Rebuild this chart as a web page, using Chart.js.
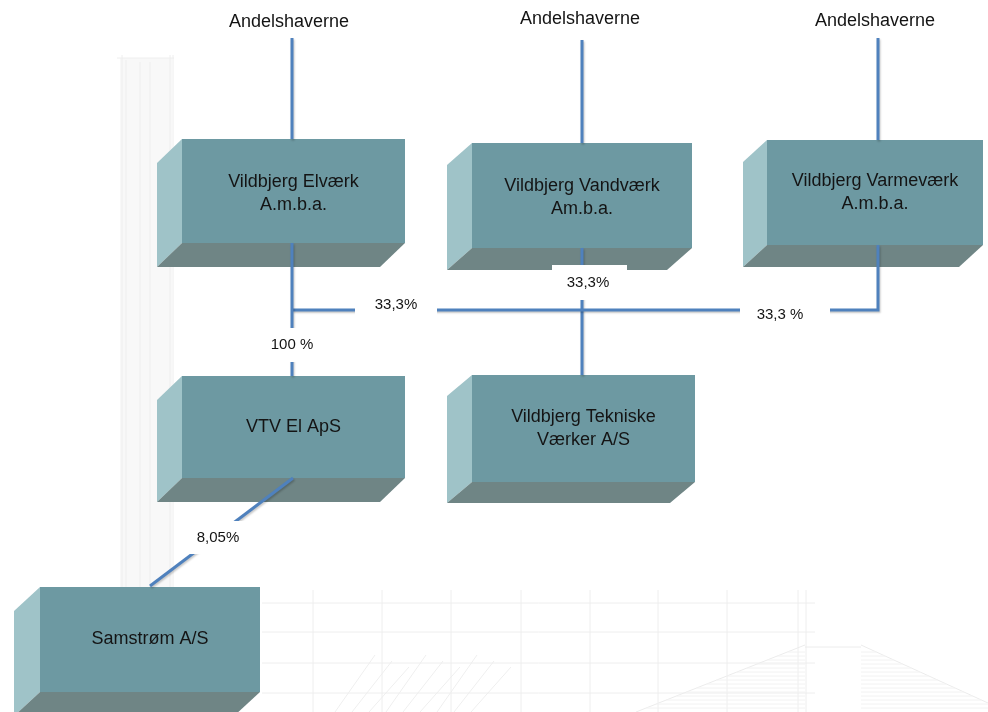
<!DOCTYPE html>
<html><head><meta charset="utf-8">
<script src="https://cdn.jsdelivr.net/npm/chart.js@4/dist/chart.umd.min.js"></script>
<style>html,body{margin:0;padding:0;background:#fff;}#wrap{width:988px;height:712px;position:relative;}</style>
</head><body><div id="wrap"><canvas id="c"></canvas></div>
<script>
// ---- data ----
const nodeNames = ["Vildbjerg Elværk\nA.m.b.a.", "Vildbjerg Vandværk\nAm.b.a.", "Vildbjerg Varmeværk\nA.m.b.a.", "VTV El ApS", "Vildbjerg Tekniske\nVærker A/S", "Samstrøm A/S"];
const ownerLabels = ["Andelshaverne", "Andelshaverne", "Andelshaverne"];
const shareLabels = ["33,3%", "33,3%", "33,3 %", "100 %", "8,05%"];
const shareValues = [33.3, 33.3, 33.3, 100, 8.05];

// ---- layout (data units = px of 988x712 canvas) ----
const L = {
  boxes: [
    {x0:182,y0:139,x1:405,y1:243,dx:-25,dy:24,ty:3},
    {x0:472,y0:143,x1:692,y1:248,dx:-25,dy:22,ty:2},
    {x0:767,y0:140,x1:983,y1:245,dx:-24,dy:22,ty:0},
    {x0:182,y0:376,x1:405,y1:478,dx:-25,dy:24,ty:0},
    {x0:472,y0:375,x1:695,y1:482,dx:-25,dy:21,ty:0},
    {x0:40,y0:587,x1:260,y1:692,dx:-26,dy:24,ty:0}
  ],
  owners: [{x:289,y:22},{x:580,y:19},{x:875,y:21}],
  shares: [
    {x:396,y:305,r:[355,296,437,320]},
    {x:588,y:283,r:[552,265,627,300]},
    {x:780,y:315,r:[740,300,830,328]},
    {x:292,y:345,r:[268,328,316,362]},
    {x:218,y:538,r:[188,521,250,554]}
  ],
  paths: [
    [[292,38],[292,139]],
    [[582,40],[582,143]],
    [[878,38],[878,140]],
    [[292,243],[292,376]],
    [[292,310],[878,310],[878,245]],
    [[582,248],[582,375]],
    [[293,478],[150,586]]
  ]
};
const C = {front:'#6d99a2', left:'#9fc3c8', bottom:'#6f8585', line:'#4f81bd', text:'#141414', sketch:'#eeeeee'};
const FONT = '"Liberation Sans", Arial, sans-serif';

function sx(ch,v){return ch.scales.x.getPixelForValue(v);}
function sy(ch,v){return ch.scales.y.getPixelForValue(v);}
function poly(ctx,pts,fill){ctx.beginPath();pts.forEach((p,i)=>i?ctx.lineTo(p[0],p[1]):ctx.moveTo(p[0],p[1]));ctx.closePath();ctx.fillStyle=fill;ctx.fill();}
function seg(ch,ctx,a,b){ctx.beginPath();ctx.moveTo(sx(ch,a[0]),sy(ch,a[1]));ctx.lineTo(sx(ch,b[0]),sy(ch,b[1]));ctx.stroke();}

const sketchPlugin = {
  id:'sketch',
  beforeDatasetsDraw(ch){
    const ctx=ch.ctx; ctx.save();
    // faint chimney
    ctx.fillStyle='#f8f8f8';
    ctx.fillRect(sx(ch,120),sy(ch,58),sx(ch,172)-sx(ch,120),sy(ch,590)-sy(ch,58));
    ctx.strokeStyle=C.sketch; ctx.lineWidth=1;
    [[117,58,174,58],[122,55,122,590],[126,60,126,590],[140,62,140,590],[150,62,150,590],[170,55,170,590],[173,55,173,590]].forEach(s=>seg(ch,ctx,[s[0],s[1]],[s[2],s[3]]));
    // faint grid
    [603,632,663,693].forEach(y=>seg(ch,ctx,[262,y],[815,y]));
    [313,382,451,521,590,658,727,798,806].forEach(x=>seg(ch,ctx,[x,590],[x,712]));
    // roof
    ctx.strokeStyle='#ececec';
    seg(ch,ctx,[805,645],[636,712]); seg(ch,ctx,[861,645],[988,703]); seg(ch,ctx,[805,647],[861,647]);
    ctx.strokeStyle='#f2f2f2';
    for(let y=652;y<712;y+=4){const xl=805-(y-645)*(169/67);seg(ch,ctx,[xl,y],[805,y]);const xr=861+(y-645)*(127/58);seg(ch,ctx,[861,y],[Math.min(xr,988),y]);}
    // scribble
    ctx.strokeStyle='#efefef';
    for(let i=0;i<9;i++){const x=335+i*17;seg(ch,ctx,[x,712],[x+40,655+(i%3)*6]);}
    // boxes
    L.boxes.forEach(b=>{
      const x0=sx(ch,b.x0),x1=sx(ch,b.x1),y0=sy(ch,b.y0),y1=sy(ch,b.y1);
      const dx=sx(ch,b.x0+b.dx)-x0, dy=sy(ch,b.y0+b.dy)-y0;
      poly(ctx,[[x0,y0],[x0+dx,y0+dy],[x0+dx,y1+dy],[x0,y1]],C.left);
      ctx.fillStyle=C.front; ctx.fillRect(x0,y0,x1-x0,y1-y0);
      poly(ctx,[[x0,y1],[x1,y1],[x1+dx,y1+dy],[x0+dx,y1+dy]],C.bottom);
    });
    ctx.restore();
  },
  beforeDatasetDraw(ch){const ctx=ch.ctx;ctx.save();ctx.shadowColor='rgba(0,0,0,0.22)';ctx.shadowBlur=2;ctx.shadowOffsetX=1;ctx.shadowOffsetY=1.5;},
  afterDatasetDraw(ch){ch.ctx.restore();},
  afterDatasetsDraw(ch){
    const ctx=ch.ctx; ctx.save();
    ctx.textAlign='center'; ctx.textBaseline='middle'; ctx.fillStyle=C.text;
    L.shares.forEach((s,i)=>{
      ctx.fillStyle='#fff';
      ctx.fillRect(sx(ch,s.r[0]),sy(ch,s.r[1]),sx(ch,s.r[2])-sx(ch,s.r[0]),sy(ch,s.r[3])-sy(ch,s.r[1]));
      ctx.fillStyle=C.text; ctx.font='15px '+FONT;
      ctx.fillText(shareLabels[i],sx(ch,s.x),sy(ch,s.y));
    });
    ctx.font='18px '+FONT;
    L.owners.forEach((o,i)=>ctx.fillText(ownerLabels[i],sx(ch,o.x),sy(ch,o.y)));
    L.boxes.forEach((b,i)=>{
      const lines=nodeNames[i].split('\n');
      const cx=sx(ch,(b.x0+b.x1)/2), cy=sy(ch,(b.y0+b.y1)/2+b.ty);
      const lh=23;
      lines.forEach((t,k)=>ctx.fillText(t,cx,cy+(k-(lines.length-1)/2)*lh));
    });
    ctx.restore();
  }
};

new Chart(document.getElementById('c'),{
  type:'scatter',
  data:{datasets:L.paths.map(p=>({data:p.map(([x,y])=>({x,y})),showLine:true,borderColor:C.line,borderWidth:3,pointRadius:0,fill:false,tension:0,borderJoinStyle:'miter'}))},
  options:{
    responsive:true,maintainAspectRatio:false,animation:false,events:[],
    layout:{padding:0},
    plugins:{legend:{display:false},tooltip:{enabled:false}},
    scales:{x:{type:'linear',min:0,max:988,display:false},y:{type:'linear',min:0,max:712,reverse:true,display:false}}
  },
  plugins:[sketchPlugin]
});
</script></body></html>
